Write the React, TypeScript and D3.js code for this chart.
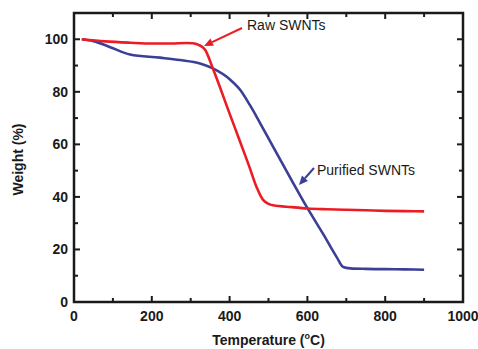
import React, { useRef, useEffect } from "react";
import * as d3 from "d3";

// TGA curves
const rawTemp = [20, 80, 144, 200, 250, 290, 305, 320, 337, 358, 400, 427, 450, 470, 486, 512, 560, 600, 650, 700, 750, 800, 850, 900];
const rawWeight = [100, 99.2, 98.7, 98.4, 98.4, 98.6, 98.5, 97.9, 96, 88.5, 71.7, 61, 51.8, 43.5, 38.9, 36.8, 36.1, 35.6, 35.3, 35.1, 34.9, 34.7, 34.6, 34.5];
const purTemp = [20, 50, 93, 144, 221, 272, 324, 357, 401, 427, 452, 478, 512, 555, 599, 640, 676, 692, 710, 750, 800, 850, 900];
const purWeight = [100, 99.3, 97, 94.2, 93, 92.1, 90.8, 88.9, 84.7, 80.8, 75, 68.2, 59, 47.5, 36, 26, 16.9, 13.3, 12.8, 12.6, 12.5, 12.4, 12.3];

const xTicks = [0, 200, 400, 600, 800, 1000];
const xMinor = [100, 300, 500, 700, 900];
const yTicks = [0, 20, 40, 60, 80, 100];
const yMinor = [10, 30, 50, 70, 90];

const W = 478;
const H = 349;
const m = { left: 74, top: 13, right: 15, bottom: 47 };

export default function App() {
  const svgRef = useRef<SVGSVGElement>(null);

  useEffect(() => {
    const svg = d3.select(svgRef.current);
    svg.selectAll("*").remove();

    const x = d3.scaleLinear().domain([0, 1000]).range([m.left, W - m.right]);
    const y = d3.scaleLinear().domain([0, 110]).range([H - m.bottom, m.top]);
    const font = "Arial, 'Liberation Sans', sans-serif";

    // ticks (inside)
    const tg = svg.append("g").attr("stroke", "#1a1a1a").attr("stroke-width", 2);
    const x0 = x(0), x1 = x(1000), y0 = y(0), y1 = y(110);
    xTicks.concat(xMinor).forEach((t) => {
      const len = xTicks.includes(t) ? 6 : 4;
      tg.append("line").attr("x1", x(t)).attr("x2", x(t)).attr("y1", y0).attr("y2", y0 - len);
      tg.append("line").attr("x1", x(t)).attr("x2", x(t)).attr("y1", y1).attr("y2", y1 + len);
    });
    yTicks.concat(yMinor).forEach((t) => {
      const len = yTicks.includes(t) ? 6 : 4;
      tg.append("line").attr("y1", y(t)).attr("y2", y(t)).attr("x1", x0).attr("x2", x0 + len);
      tg.append("line").attr("y1", y(t)).attr("y2", y(t)).attr("x1", x1).attr("x2", x1 - len);
    });

    // frame
    svg.append("rect")
      .attr("x", x0).attr("y", y1)
      .attr("width", x1 - x0).attr("height", y0 - y1)
      .attr("fill", "none").attr("stroke", "#1a1a1a").attr("stroke-width", 2.5);

    // tick labels
    svg.append("g").selectAll("text").data(xTicks).join("text")
      .attr("x", (d) => x(d)).attr("y", y0 + 19)
      .attr("text-anchor", "middle")
      .attr("font-family", font).attr("font-size", 14).attr("font-weight", "bold")
      .attr("fill", "#1a1a1a")
      .text((d) => d);
    svg.append("g").selectAll("text").data(yTicks).join("text")
      .attr("x", x0 - 6).attr("y", (d) => y(d) + 5)
      .attr("text-anchor", "end")
      .attr("font-family", font).attr("font-size", 14).attr("font-weight", "bold")
      .attr("fill", "#1a1a1a")
      .text((d) => d);

    // axis titles
    const xt = svg.append("text")
      .attr("x", (x0 + x1) / 2).attr("y", 345)
      .attr("text-anchor", "middle")
      .attr("font-family", font).attr("font-size", 14).attr("font-weight", "bold")
      .attr("fill", "#1a1a1a");
    xt.append("tspan").text("Temperature (");
    xt.append("tspan").attr("font-size", 9).attr("dy", -6).text("o");
    xt.append("tspan").attr("dy", 6).text("C)");

    svg.append("text")
      .attr("transform", `translate(23,${(y0 + y1) / 2 + 2}) rotate(-90)`)
      .attr("text-anchor", "middle")
      .attr("font-family", font).attr("font-size", 14).attr("font-weight", "bold")
      .attr("fill", "#1a1a1a")
      .text("Weight (%)");

    // curves
    const line = d3.line<[number, number]>()
      .x((d) => x(d[0])).y((d) => y(d[1]))
      .curve(d3.curveMonotoneX);
    const red = "#ec1c24";
    const blue = "#3b3f96";
    svg.append("path")
      .attr("d", line(purTemp.map((t, i) => [t, purWeight[i]]) as [number, number][]))
      .attr("fill", "none").attr("stroke", blue).attr("stroke-width", 2.6);
    svg.append("path")
      .attr("d", line(rawTemp.map((t, i) => [t, rawWeight[i]]) as [number, number][]))
      .attr("fill", "none").attr("stroke", red).attr("stroke-width", 2.6);

    // annotations with arrows
    const arrow = (xa: number, ya: number, xb: number, yb: number, c: string) => {
      const ang = Math.atan2(yb - ya, xb - xa);
      const L = 9, w = 4;
      const bx = xb - L * Math.cos(ang), by = yb - L * Math.sin(ang);
      svg.append("line")
        .attr("x1", xa).attr("y1", ya).attr("x2", bx).attr("y2", by)
        .attr("stroke", c).attr("stroke-width", 2);
      svg.append("path")
        .attr("d", `M${xb},${yb}L${bx + w * Math.sin(ang)},${by - w * Math.cos(ang)}L${bx - w * Math.sin(ang)},${by + w * Math.cos(ang)}Z`)
        .attr("fill", c);
    };
    arrow(242, 28, 204, 46, red);
    arrow(314, 168, 299, 185, blue);

    svg.append("text")
      .attr("x", 247).attr("y", 30)
      .attr("font-family", font).attr("font-size", 14)
      .attr("fill", "#1a1a1a")
      .text("Raw SWNTs");
    svg.append("text")
      .attr("x", 317).attr("y", 175)
      .attr("font-family", font).attr("font-size", 14)
      .attr("fill", "#1a1a1a")
      .text("Purified SWNTs");
  }, []);

  return (
    <svg
      ref={svgRef}
      width={W}
      height={H}
      style={{ position: "absolute", left: 0, top: 0, background: "#fff" }}
    />
  );
}
